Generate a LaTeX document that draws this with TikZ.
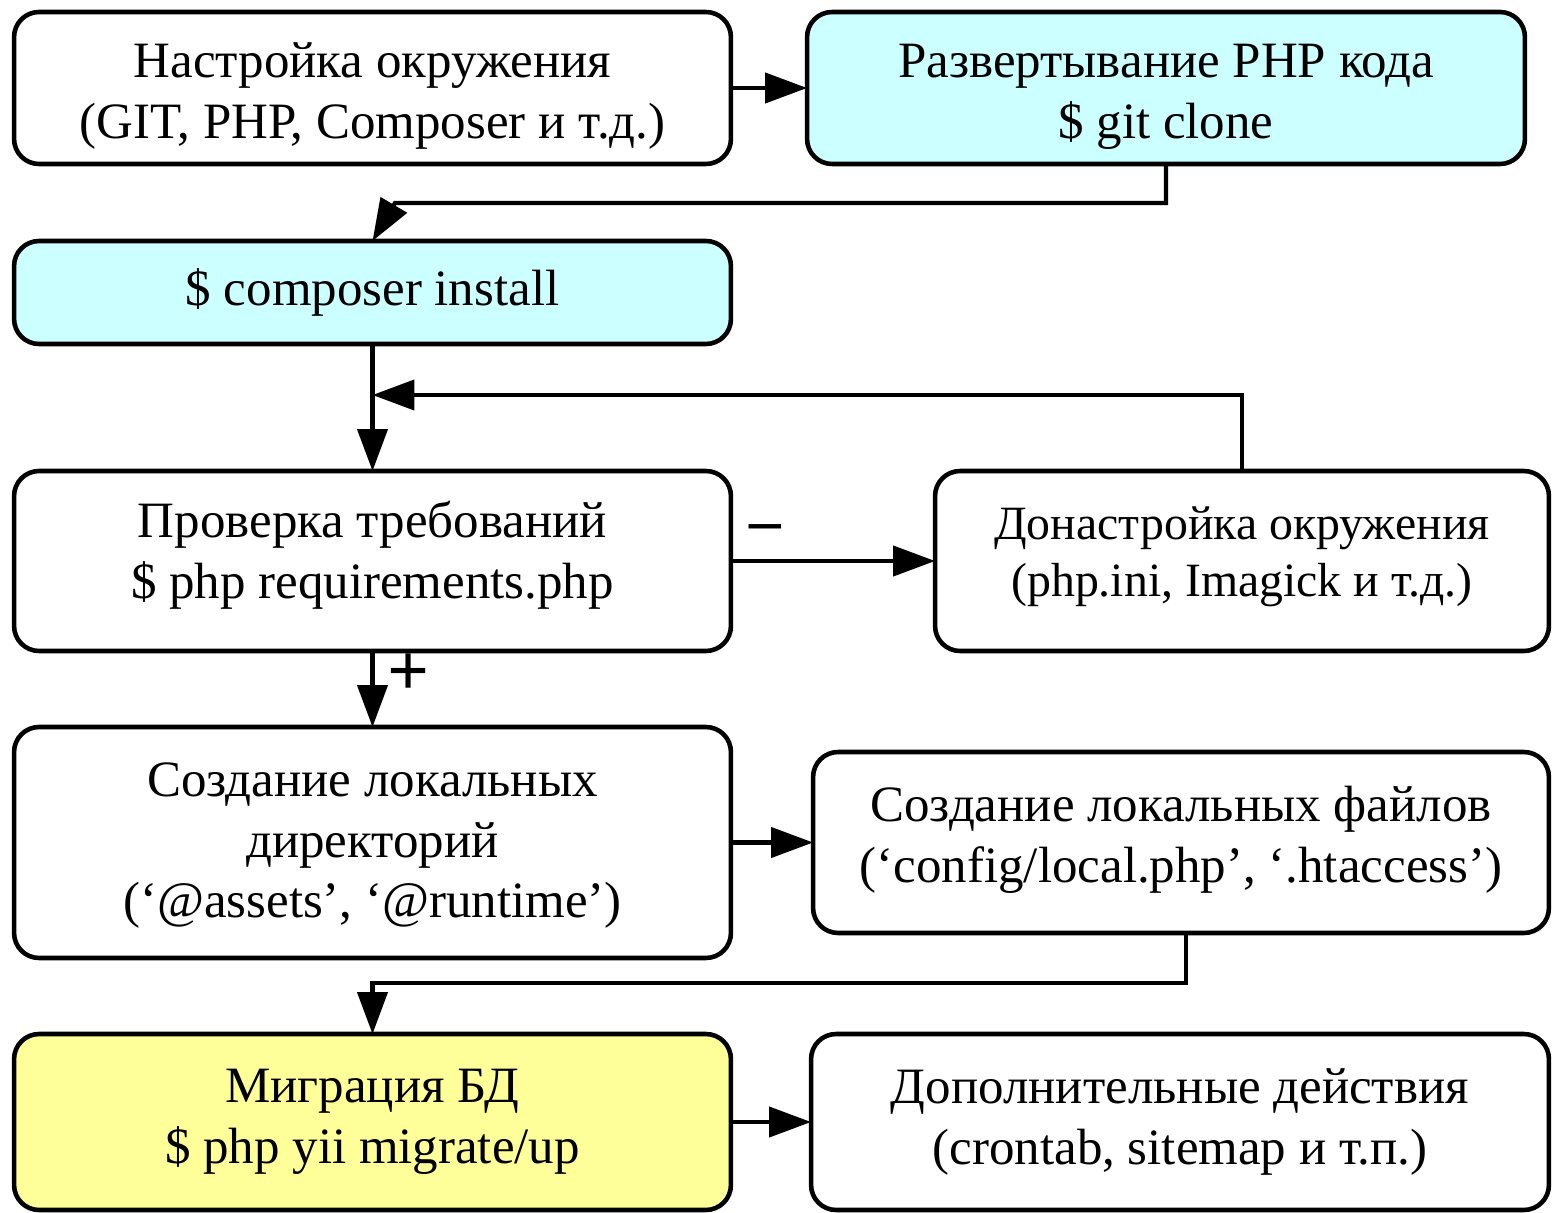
\documentclass[tikz,border=0pt]{standalone}
\usepackage{fontspec}
\setmainfont{Liberation Serif}
\usepackage{xcolor}
\usetikzlibrary{arrows.meta,positioning,calc}
\definecolor{cmdcyan}{HTML}{CCFFFF}
\definecolor{dbyellow}{HTML}{FFFF99}
\newcommand{\liftText}[2]{\raisebox{#1}[\height][\depth]{\begin{tabular}{@{}c@{}}#2\end{tabular}}}
\tikzset{
  box/.style={draw, line width=2.6pt, rounded corners=0.5cm, align=center,
    inner sep=0pt, outer sep=0pt, font=\fontsize{29}{34.5}\selectfont},
  arr/.style={line width=2.4pt, -{Triangle[length=0.84cm,width=0.6cm]}},
  sign/.style={font=\fontsize{36}{40}\selectfont\bfseries, inner sep=0pt}
}
\begin{document}
\begin{tikzpicture}[x=0.02cm, y=-0.02cm]
    \useasboundingbox (0,0) rectangle (1552,1213);
    % Boxes
    \node [box, minimum width=14.34cm, minimum height=3.04cm] (env) at (372.5,88) {\liftText{-0.16cm}{Настройка окружения\\(GIT, PHP, Composer и т.д.)}};
    \node [box, fill=cmdcyan, minimum width=14.36cm, minimum height=3.04cm] (clone) at (1166,88) {\liftText{-0.16cm}{Развертывание PHP кода\\\$ git clone}};
    \node [box, fill=cmdcyan, minimum width=14.34cm, minimum height=2.06cm] (install) at (372.5,292.5) {\$ composer install};
    \node [box, minimum width=14.34cm, minimum height=3.6cm] (check) at (372.5,561) {\liftText{0.1cm}{Проверка требований\\\$ php requirements.php}};
    \node [box, minimum width=12.28cm, minimum height=3.6cm, font=\fontsize{27.2}{32.5}\selectfont] (tune) at (1242,561) {\liftText{0.08cm}{Донастройка окружения\\(php.ini, Imagick и т.д.)}};
    \node [box, minimum width=14.34cm, minimum height=4.62cm] (dirs) at (372.5,842.5) {\liftText{-0.05cm}{Создание локальных\\директорий\\(‘@assets’, ‘@runtime’)}};
    \node [box, minimum width=14.72cm, minimum height=3.62cm] (files) at (1181,842.5) {\liftText{0.05cm}{Создание локальных файлов\\(‘config/local.php’, ‘.htaccess’)}};
    \node [box, fill=dbyellow, minimum width=14.34cm, minimum height=3.52cm] (migrate) at (372.5,1122) {Миграция БД\\\$ php yii migrate/up};
    \node [box, minimum width=14.76cm, minimum height=3.52cm] (extra) at (1180,1122) {Дополнительные действия\\(crontab, sitemap и т.п.)};
    % Bends
    \coordinate (bend1) at (395,203);
    \coordinate (join) at (372.5,395);
    \coordinate (bend2) at (372.5,983);
    % Arrows
    \draw [arr] (env) -- (clone);
    \draw [arr] (clone.south) |- (bend1) -- (install.north);
    \draw [arr] (install) -- (check);
    \draw [arr] (tune.north) |- (join);
    \draw [arr] (check) -- (tune);
    \node [sign] (minus) at (765,533) {–};
    \draw [arr] (check) -- (dirs);
    \node [sign, font=\fontsize{42}{46}\selectfont\bfseries] (plus) at (409,675) {+};
    \draw [arr] (dirs) -- (files);
    \draw [arr] ([xshift=0.1cm]files.south) |- (bend2) -- (migrate.north);
    \draw [arr] (migrate) -- (extra);
\end{tikzpicture}
\end{document}
